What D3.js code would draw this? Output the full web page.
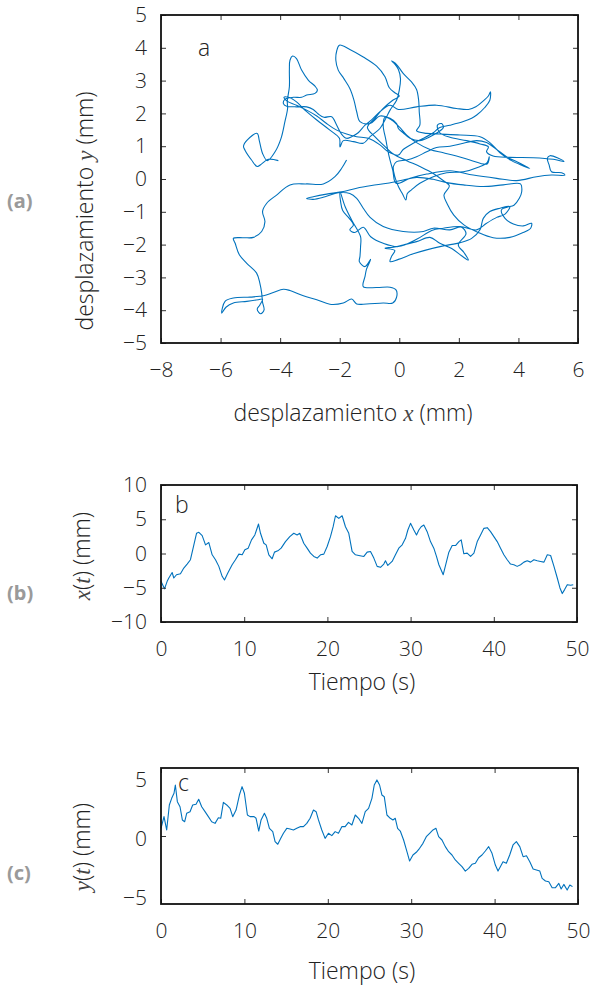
<!DOCTYPE html>
<html>
<head>
<meta charset="utf-8">
<script src="https://cdn.jsdelivr.net/npm/d3@7"></script>
<style>
  body { margin: 0; background: #fff; }
  text { font-family: "Open Sans", Lato, sans-serif; font-weight: 300; fill: #222; }
  .var { font-family: "Liberation Serif", serif; font-style: italic; fill: #444; }
  .tag { font-family: "Noto Sans", sans-serif; font-weight: 700; fill: #9a9a9a; }
</style>
</head>
<body>
<svg id="chart" width="591" height="985"></svg>
<script>
// Panel a: trajectory (mm)
var pathX = [-4.06,-4.40,-4.62,-4.77,-4.96,-5.18,-5.23,-5.10,-4.77,-4.70,-4.59,-4.43,-4.17,-3.97,-3.84,-3.75,-3.76,-3.69,-3.69,-3.67,
  -3.58,-3.45,-3.28,-3.05,-2.83,-2.75,-2.83,-3.11,-3.28,-3.56,-3.84,-3.89,-3.78,-3.45,-3.11,-2.89,-2.72,-2.53,-2.27,-2.10,
  -1.94,-1.77,-1.60,-1.38,-1.15,-0.93,-0.65,-0.31,-0.03,0.58,1.25,1.92,2.32,2.57,2.82,2.99,3.06,3.04,2.87,2.60,
  2.43,2.15,1.70,1.36,1.14,0.81,0.47,0.13,-0.03,-0.37,-0.65,-1.04,-1.43,-1.77,-2.10,-2.44,-2.77,-3.11,-3.45,-3.78,
  -3.87,-3.72,-3.45,-3.17,-2.77,-2.33,-2.01,-1.99,-1.88,-1.54,-1.21,-0.98,-0.65,-0.48,-0.31,-0.09,0.00,0.04,-0.03,-0.15,
  -0.26,-0.09,0.13,0.41,0.58,0.65,0.67,0.69,0.58,0.92,1.36,2.04,2.71,3.04,3.38,3.77,4.16,4.38,4.05,3.60,
  3.27,2.93,2.60,2.15,1.70,1.25,0.92,0.58,0.25,-0.09,-0.20,-0.15,-0.03,0.11,0.22,0.27,0.41,0.69,1.14,1.59,
  2.15,2.65,2.95,3.02,2.95,2.37,1.92,1.48,1.03,0.58,0.25,0.00,-0.26,-0.48,-0.54,-0.45,-0.34,-0.22,-0.11,0.36,
  0.92,1.70,2.48,3.27,3.94,4.61,5.11,5.56,5.45,5.11,5.03,4.97,5.06,5.34,5.53,5.17,4.50,3.71,3.15,2.93,
  2.99,2.71,2.26,1.70,1.36,1.28,1.42,1.48,1.14,0.69,0.36,0.13,-0.03,-0.09,-0.31,-0.65,-0.98,-1.32,-1.43,-1.52,
  -1.66,-1.86,-2.05,-2.13,-2.10,-2.01,-1.66,-1.21,-0.76,-0.48,-0.34,-0.15,0.00,-0.22,-0.54,-0.82,-1.07,-0.82,-0.54,-0.20,
  0.25,0.69,1.14,1.45,1.68,1.50,1.61,1.83,2.17,2.65,3.15,3.71,4.16,4.41,4.44,4.16,3.83,3.55,3.43,3.62,
  3.85,4.03,4.11,4.07,3.49,2.82,2.15,1.59,1.14,0.58,0.13,-0.40,-0.93,-1.43,-1.94,-2.44,-2.89,-3.11,-2.89,-2.49,
  -2.05,-1.66,-1.43,-1.21,-0.98,-0.54,0.13,0.81,1.14,1.70,2.09,2.24,1.98,2.17,2.32,2.09,1.76,1.36,1.03,0.58,
  0.13,-0.20,-0.48,-0.15,-0.26,-0.31,-0.03,0.47,0.92,1.48,2.04,2.43,2.71,2.82,3.04,3.38,3.71,3.55,3.27,2.93,
  2.60,2.04,1.48,1.09,0.58,-0.03,-0.54,-0.96,-1.21,-1.49,-1.66,-1.54,-1.68,-1.90,-1.97,-1.99,-1.82,-1.60,-1.30,-1.30,
  -1.32,-1.34,-1.15,-0.96,-1.10,-1.15,-1.21,-0.76,-0.31,-0.11,-0.09,-0.22,-0.54,-1.10,-1.43,-1.60,-1.88,-2.33,-2.77,-3.22,
  -3.67,-3.89,-4.23,-4.56,-5.01,-5.57,-5.85,-5.96,-5.82,-5.57,-5.12,-4.73,-4.59,-4.68,-4.77,-4.65,-4.54,-4.59,-4.62,-4.68,
  -4.79,-5.12,-5.37,-5.51,-5.57,-5.23,-4.90,-4.62,-4.51,-4.59,-4.45,-4.12,-3.67,-3.11,-2.55,-2.16,-1.94,-1.77];
var pathY = [0.56,0.60,0.46,0.38,0.58,0.88,1.00,1.19,1.39,1.17,0.78,0.56,0.83,1.24,1.75,2.15,2.38,2.81,3.32,3.62,
  3.75,3.67,3.32,3.01,2.83,2.71,2.61,2.56,2.49,2.49,2.43,2.30,2.22,2.20,2.20,2.12,1.98,1.88,1.90,1.64,
  1.37,1.24,1.29,1.41,1.64,1.80,2.05,2.25,2.12,2.20,2.25,2.15,2.12,2.20,2.38,2.53,2.66,2.40,2.18,1.95,
  1.85,1.75,1.64,1.57,1.41,1.24,1.09,0.90,0.73,0.83,1.04,1.24,1.29,1.37,1.49,1.69,1.92,2.10,2.25,2.38,
  2.49,2.49,2.35,2.10,1.80,1.49,1.24,0.98,1.17,1.14,1.09,1.29,1.54,1.80,2.10,2.40,2.71,3.06,3.34,3.50,
  3.60,3.49,3.22,2.96,2.73,2.40,2.05,1.64,1.47,1.39,1.37,1.34,1.29,1.11,0.80,0.56,0.40,0.32,0.48,0.68,
  0.90,1.11,1.17,1.09,1.00,0.96,0.83,0.68,0.58,0.53,0.38,0.07,-0.23,-0.46,-0.64,-0.44,-0.33,-0.13,0.07,0.19,
  0.22,0.36,0.50,0.68,0.46,0.58,0.70,0.80,0.90,1.11,1.34,1.59,1.80,1.88,1.64,1.19,0.68,0.27,-0.13,0.02,
  0.15,0.25,0.12,0.02,-0.05,0.07,0.12,0.12,0.19,0.22,0.43,0.63,0.71,0.63,0.53,0.60,0.65,0.66,0.70,0.83,
  0.98,1.07,1.17,1.27,1.41,1.64,1.69,1.57,1.34,1.17,1.24,1.41,1.54,1.69,1.85,1.92,1.69,1.75,2.05,2.40,
  2.76,3.06,3.32,3.62,3.91,4.08,3.95,3.72,3.44,3.12,2.79,2.63,2.53,2.40,2.15,1.85,1.57,1.29,1.04,0.76,
  0.56,0.38,0.17,-0.03,-0.21,-0.49,-0.76,-1.10,-1.40,-1.63,-1.79,-1.78,-1.63,-1.50,-1.35,-1.43,-1.37,-1.20,-0.94,-0.86,
  -0.80,-0.59,-0.39,-0.15,-0.18,-0.23,-0.18,-0.11,-0.01,0.05,-0.03,-0.13,-0.20,-0.28,-0.39,-0.46,-0.54,-0.59,-0.62,-0.54,
  -0.42,-0.44,-0.59,-0.89,-1.17,-1.45,-1.60,-1.60,-1.50,-1.55,-1.47,-1.67,-2.01,-2.24,-2.47,-2.34,-2.12,-1.96,-1.78,-1.91,
  -2.01,-2.08,-2.11,-2.18,-2.36,-2.52,-2.45,-2.28,-2.16,-2.04,-1.94,-1.81,-1.55,-1.20,-0.99,-0.89,-0.84,-1.07,-1.17,-1.35,
  -1.55,-1.45,-1.50,-1.57,-1.84,-2.06,-1.96,-1.76,-1.47,-1.63,-1.55,-1.40,-1.20,-0.96,-0.69,-0.39,-0.84,-1.25,-1.76,-2.06,
  -2.36,-2.52,-2.67,-2.45,-2.75,-2.97,-3.28,-3.31,-3.30,-3.38,-3.60,-3.78,-3.78,-3.81,-3.81,-3.66,-3.78,-3.82,-3.68,-3.56,
  -3.40,-3.36,-3.46,-3.56,-3.60,-3.63,-3.73,-4.09,-3.91,-3.78,-3.73,-3.68,-3.66,-3.84,-3.97,-4.11,-3.99,-3.76,-3.48,-3.18,
  -2.87,-2.57,-2.31,-1.96,-1.81,-1.79,-1.78,-1.60,-1.30,-0.99,-0.74,-0.49,-0.18,-0.15,-0.15,0.07,0.32,0.58];

// Panel b: x(t)
var timeB = [0,0.42,0.74,0.94,1.34,1.54,1.86,2.34,2.74,3.14,3.54,3.95,4.27,4.55,4.95,5.35,5.75,6.15,6.55,6.95,
  7.35,7.63,8.03,8.55,8.95,9.36,9.76,10.08,10.48,10.88,11.28,11.48,11.72,11.96,12.36,12.64,12.96,13.36,13.64,14.04,
  14.44,14.96,15.48,15.96,16.36,16.68,17.16,17.56,17.96,18.37,18.77,19.17,19.57,19.97,20.37,20.69,20.97,21.37,21.77,22.17,
  22.57,22.97,23.37,23.77,24.38,24.78,25.18,25.58,25.98,26.38,26.78,26.98,27.26,27.78,28.18,28.58,28.99,29.39,29.67,29.99,
  30.39,30.71,30.99,31.27,31.59,31.99,32.39,32.79,33.11,33.4,33.92,34.32,34.6,35.0,35.4,35.8,36.08,36.4,36.8,37.21,
  37.61,38.01,38.41,38.81,39.21,39.61,40.09,40.41,40.81,41.21,41.61,42.01,42.41,42.81,43.22,43.62,44.02,44.42,44.82,45.22,
  45.62,46.03,46.43,46.83,47.23,47.63,47.95,48.23,48.51,48.83,49.23,49.55];
var xOfT = [-4.06,-5.16,-4.06,-3.58,-2.77,-3.58,-3.1,-2.96,-2.12,-1.54,-0.91,1.26,2.95,3.1,2.61,1.26,1.6,-0.19,-0.91,-1.88,
  -3.33,-3.86,-2.85,-1.64,-0.91,-0.09,-0.19,0.54,0.78,1.99,2.71,3.43,4.3,2.95,1.5,1.26,-0.19,-0.77,0.2,0.39,
  0.78,1.74,2.46,2.95,2.71,2.95,1.5,0.78,0.05,-0.43,-0.67,-0.19,-0.09,1.02,2.46,3.91,5.51,5.12,5.51,3.91,
  2.95,0.3,-0.19,-0.29,-0.43,0.2,0.3,-0.67,-1.88,-2.02,-1.54,-1.06,-1.74,-1.16,-0.19,0.78,1.26,2.22,3.43,4.4,
  3.43,2.71,3.43,3.91,4.16,3.19,1.74,0.78,-0.43,-1.64,-3.1,-1.16,0.2,1.16,1.16,1.74,1.99,-0.04,0.05,-0.43,
  0.05,1.74,2.71,3.67,3.77,3.19,2.32,1.74,0.78,-0.19,-0.91,-1.54,-1.64,-1.88,-1.64,-1.26,-1.06,-1.26,-0.91,-1.06,
  -1.16,-1.26,-0.19,-0.29,-1.88,-3.58,-5.03,-5.85,-5.27,-4.55,-4.64,-4.55];

// Panel c: y(t)
var timeC = [0,0.36,0.68,1.0,1.28,1.56,1.72,1.96,2.28,2.56,2.84,3.08,3.48,3.8,4.2,4.52,4.88,5.28,5.68,6.08,
  6.48,6.88,7.16,7.48,7.88,8.28,8.6,9.0,9.4,9.72,10.0,10.36,10.68,11.16,11.4,11.72,12.0,12.4,12.68,13.0,
  13.4,13.68,14.0,14.36,14.68,15.08,15.48,15.88,16.28,16.68,17.08,17.48,17.88,18.28,18.6,18.88,19.28,19.68,20.08,20.48,
  20.88,21.28,21.68,22.08,22.48,22.89,23.29,23.69,24.09,24.49,24.89,25.29,25.57,25.89,26.21,26.49,26.77,27.09,27.49,27.81,
  28.09,28.37,28.69,29.09,29.49,29.81,30.21,30.61,31.01,31.41,31.81,32.21,32.61,32.97,33.29,33.69,34.09,34.49,34.89,35.29,
  35.69,36.09,36.49,36.89,37.29,37.69,38.09,38.49,38.89,39.29,39.69,40.09,40.41,40.69,41.01,41.41,41.81,42.21,42.61,43.02,
  43.42,43.82,44.22,44.62,45.02,45.42,45.7,46.1,46.5,46.9,47.3,47.7,47.98,48.3,48.7,49.02,49.34];
var yOfT = [0.65,1.64,0.51,2.63,3.19,3.62,4.32,2.91,2.48,1.36,1.21,1.92,2.06,2.63,2.69,3.11,2.48,2.06,1.64,1.21,
  1.07,1.55,1.5,2.85,2.63,2.34,1.64,2.2,3.47,4.18,3.62,1.78,1.64,1.64,1.5,0.42,1.36,1.92,1.5,0.65,
  0.37,-0.48,-0.7,-0.2,0.23,0.65,0.59,0.51,0.65,0.79,0.79,1.07,1.5,2.2,2.06,1.36,0.51,-0.2,0.23,0.03,
  0.37,0.23,0.79,0.79,1.16,0.93,1.78,1.5,1.07,2.06,2.34,3.19,4.32,4.75,4.32,3.47,3.33,1.78,1.5,1.36,
  1.5,0.65,0.42,-0.34,-1.33,-2.12,-1.61,-1.38,-1.04,-0.62,-0.06,0.23,0.51,0.65,-0.06,-0.34,-0.9,-1.33,-1.61,-2.03,
  -2.31,-2.6,-2.97,-2.74,-2.4,-2.31,-1.84,-1.61,-1.27,-0.9,-1.47,-2.46,-2.97,-2.6,-2.18,-2.31,-1.61,-0.76,-0.48,-0.9,
  -1.75,-1.67,-2.18,-2.8,-2.88,-2.97,-3.59,-3.81,-3.87,-4.38,-4.38,-4.01,-4.49,-4.1,-4.58,-4.15,-4.29];

var ticksA_x = [-8, -6, -4, -2, 0, 2, 4, 6];
var ticksA_y = [-5, -4, -3, -2, -1, 0, 1, 2, 3, 4, 5];
var ticksT = [0, 10, 20, 30, 40, 50];
var ticksB_y = [-10, -5, 0, 5, 10];
var ticksC_y = [-5, 0, 5];

var svg = d3.select('#chart');
var lineColor = '#0072bd';

// Draws one framed panel with inward ticks on all four sides.
function panel(o) {
    var x = d3.scaleLinear().domain(o.xDomain).range([o.left, o.right]);
    var y = d3.scaleLinear().domain(o.yDomain).range([o.bottom, o.top]);
    var g = svg.append('g');

    g.append('path')
        .datum(o.points)
        .attr('fill', 'none')
        .attr('stroke', lineColor)
        .attr('stroke-width', 1.1)
        .attr('stroke-linejoin', 'round')
        .attr('d', d3.line()
            .x(function(d) { return x(d[0]); })
            .y(function(d) { return y(d[1]); })
            .curve(o.curve || d3.curveLinear));

    var bottom = g.append('g')
        .attr('transform', 'translate(0,' + o.bottom + ')')
        .call(d3.axisBottom(x).tickValues(o.xTicks).tickSizeInner(-5).tickSizeOuter(0).tickPadding(19));
    var left = g.append('g')
        .attr('transform', 'translate(' + o.left + ',0)')
        .call(d3.axisLeft(y).tickValues(o.yTicks).tickSizeInner(-5).tickSizeOuter(0).tickPadding(14));
    g.append('g')
        .attr('transform', 'translate(0,' + o.top + ')')
        .call(d3.axisTop(x).tickValues(o.xTicks).tickSizeInner(-5).tickSizeOuter(0).tickFormat(''));
    var right = g.append('g')
        .attr('transform', 'translate(' + o.right + ',0)')
        .call(d3.axisRight(y).tickValues(o.yTicks).tickSizeInner(-5).tickSizeOuter(0).tickFormat(''));

    g.selectAll('.domain').remove();
    g.selectAll('.tick line').attr('stroke', '#333');
    g.selectAll('.tick text')
        .attr('font-size', 21)
        .style('font-family', '"Open Sans", Lato, sans-serif')
        .style('font-weight', 300)
        .attr('fill', '#222');
    bottom.selectAll('.tick text').attr('dy', '0.71em');
    if (o.labelShift) {
        left.selectAll('.tick text').attr('y', o.labelShift);
    }

    if (o.yTickMarks) {
        left.selectAll('.tick').filter(function(d) { return o.yTickMarks.indexOf(d) < 0; })
            .select('line').remove();
        right.selectAll('.tick').filter(function(d) { return o.yTickMarks.indexOf(d) < 0; })
            .select('line').remove();
    }

    g.append('rect')
        .attr('x', o.left).attr('y', o.top)
        .attr('width', o.right - o.left).attr('height', o.bottom - o.top)
        .attr('fill', 'none').attr('stroke', '#111').attr('stroke-width', 1.8);

    g.append('text')
        .attr('x', o.letter[1]).attr('y', o.letter[2])
        .attr('font-size', 23)
        .text(o.letter[0]);

    return g;
}

panel({
    left: 161, right: 578, top: 15, bottom: 343,
    xDomain: [-8, 6], yDomain: [-5, 5],
    xTicks: ticksA_x, yTicks: ticksA_y,
    points: d3.zip(pathX, pathY),
    curve: d3.curveCatmullRom.alpha(0.5),
    letter: ['a', 198, 56]
});

panel({
    left: 161, right: 577, top: 485, bottom: 622,
    xDomain: [0, 50], yDomain: [-10, 10],
    xTicks: ticksT, yTicks: ticksB_y,
    points: d3.zip(timeB, xOfT),
    letter: ['b', 175, 513]
});

panel({
    left: 161, right: 578, top: 768, bottom: 904,
    xDomain: [0, 50], yDomain: [-5.76, 5.76],
    xTicks: ticksT, yTicks: ticksC_y,
    yTickMarks: [0],
    labelShift: 3,
    points: d3.zip(timeC, yOfT),
    letter: ['c', 178, 791]
});

// Axis titles
function title(x, y, rotate, parts) {
    var t = svg.append('text')
        .attr('transform', 'translate(' + x + ',' + y + ')' + (rotate ? ' rotate(-90)' : ''))
        .attr('text-anchor', 'middle')
        .attr('font-size', 23);
    parts.forEach(function(p) {
        t.append('tspan')
            .attr('class', p[1] ? 'var' : null)
            .text(p[0]);
    });
}

title(353, 421, false, [['desplazamiento '], ['x', true], [' (mm)']]);
title(93, 211, true, [['desplazamiento '], ['y', true], [' (mm)']]);
title(362, 690, false, [['Tiempo (s)']]);
title(90, 556, true, [['x', true], ['('], ['t', true], [') (mm)']]);
title(362, 979, false, [['Tiempo (s)']]);
title(90, 847, true, [['y', true], ['('], ['t', true], [') (mm)']]);

// Panel tags
[['(a)', 208], ['(b)', 600], ['(c)', 880]].forEach(function(p) {
    svg.append('text')
        .attr('class', 'tag')
        .attr('x', 7).attr('y', p[1])
        .attr('font-size', 20)
        .text(p[0]);
});
</script>
</body>
</html>
